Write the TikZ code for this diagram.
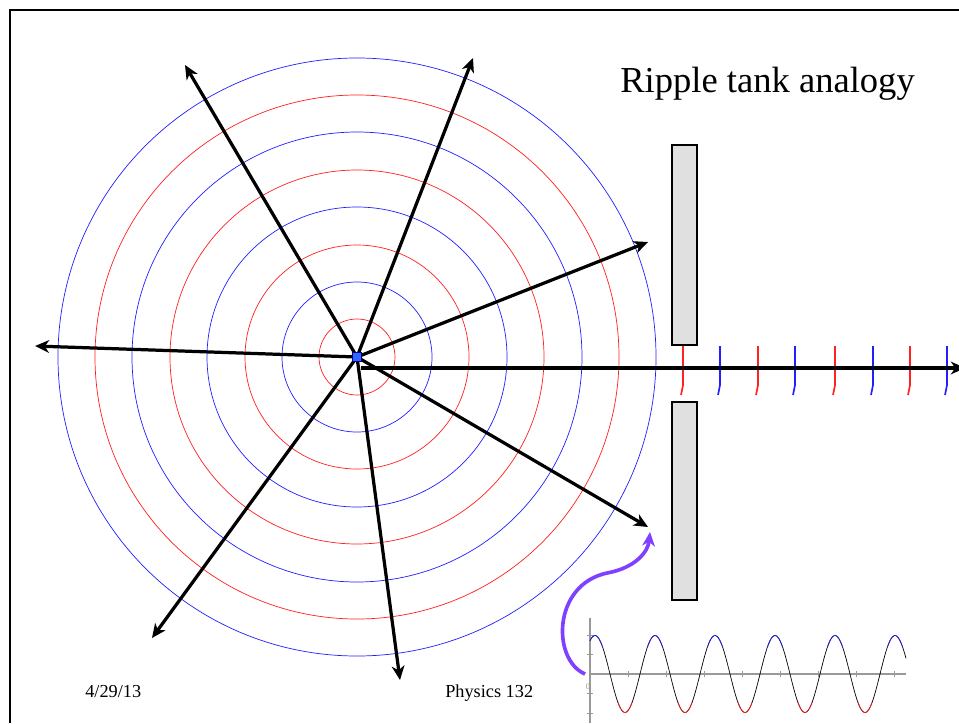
\documentclass[tikz,border=0pt]{standalone}
\usepackage{fontspec}
\setmainfont{Liberation Serif}
\usetikzlibrary{arrows.meta}
\definecolor{wallgray}{gray}{0.88}
\definecolor{crest}{HTML}{2020FF}
\definecolor{trough}{HTML}{FF2020}
\definecolor{dotblue}{HTML}{3366FF}
\definecolor{hint}{HTML}{8040FF}
\definecolor{axgray}{gray}{0.6}
\tikzset{
  ray/.style={line width=2.3pt, -{Stealth[length=10pt, width=9pt, inset=3pt]}},
  ring/.style={line width=0.5pt},
  wall/.style={draw, line width=1.8pt, fill=wallgray, minimum width=6.25mm, inner sep=0pt, outer sep=0pt},
  front/.style={line width=1.2pt},
  tck/.style={axgray, line width=0.6pt},
  wavy/.style={line width=0.5pt}}

\begin{document}
\begin{tikzpicture}[x=0.025cm, y=-0.025cm]
\useasboundingbox (0,0) rectangle (959,723);
\draw[line width=1.5pt] (10,723) -- (10,10) -- (959,10);
\coordinate (ctr) at (357,357);
\foreach \r/\c in {38/trough,75/crest,112/trough,150/crest,187/trough,225/crest,262/trough,299/crest}
  \draw[ring, \c] (ctr) circle[radius=\r];
\foreach \n/\p in {nw/{185,65}, nne/{473,58}, ene/{648,242}, w/{35,346}, sw/{152,638}, s/{400,680}, ese/{648,527}}
  \coordinate (\n) at (\p);
\foreach \n in {nw,nne,ene,w,sw,s,ese}
  \draw[ray] (ctr) -- (\n);
\node[wall, minimum height=50mm] (wtop) at (684.5,245) {};
\node[wall, minimum height=49.5mm] (wbot) at (684.5,501) {};
\foreach \x/\c in {683/trough,720/crest,758/trough,795/crest,835/trough,873/crest,910/trough,947/crest}
  \draw[front, \c] (\x,346) -- (\x,385) -- ({\x-2},395);
\coordinate (ax0) at (361,368);
\coordinate (ax1) at (965,368);
\draw[ray] (ax0) -- (ax1);
\node[draw=blue!50!black, fill=dotblue, minimum size=2.2mm, inner sep=0pt] (src) at (ctr) {};
\node[anchor=base west, font=\fontsize{26}{30}\selectfont, inner sep=0pt] (ttl) at (620,92) {Ripple tank analogy};
\node[anchor=base west, font=\fontsize{13}{15}\selectfont, inner sep=0pt] (date) at (85,697) {4/29/13};
\node[anchor=base west, font=\fontsize{13}{15}\selectfont, inner sep=0pt] (crs) at (445,697) {Physics 132};
\draw[axgray, line width=1pt] (590,618) -- (590,723);
\draw[axgray, line width=1pt] (590,674) -- (906,674);
\foreach \k in {1,...,8}
  \draw[tck] ({590+38.1*\k},671) -- ({590+38.1*\k},677);
\foreach \y in {635,654,693,713}
  \draw[tck] (587,\y) -- (593,\y);
\node[axgray, font=\fontsize{6}{6}\selectfont, inner sep=0pt] (zero) at (588,687) {0};
\draw[wavy] plot[domain=590:906, samples=240] (\x,{674-38.5*cos(6*(\x-595))});
\begin{scope}
  \clip (585,625) rectangle (910,646);
  \draw[wavy, crest] plot[domain=590:906, samples=240] (\x,{674-38.5*cos(6*(\x-595))});
\end{scope}
\begin{scope}
  \clip (585,702) rectangle (910,720);
  \draw[wavy, trough] plot[domain=590:906, samples=240] (\x,{674-38.5*cos(6*(\x-595))});
\end{scope}
\coordinate (hs) at (585,674);
\coordinate (ht) at (650,532);
\draw[hint, line width=2.6pt, -{Stealth[length=10pt, width=9pt, inset=3pt]}] (hs) .. controls (552,660) and (552,585) .. (607,573) .. controls (635,568) and (648,552) .. (ht);
\end{tikzpicture}
\end{document}
